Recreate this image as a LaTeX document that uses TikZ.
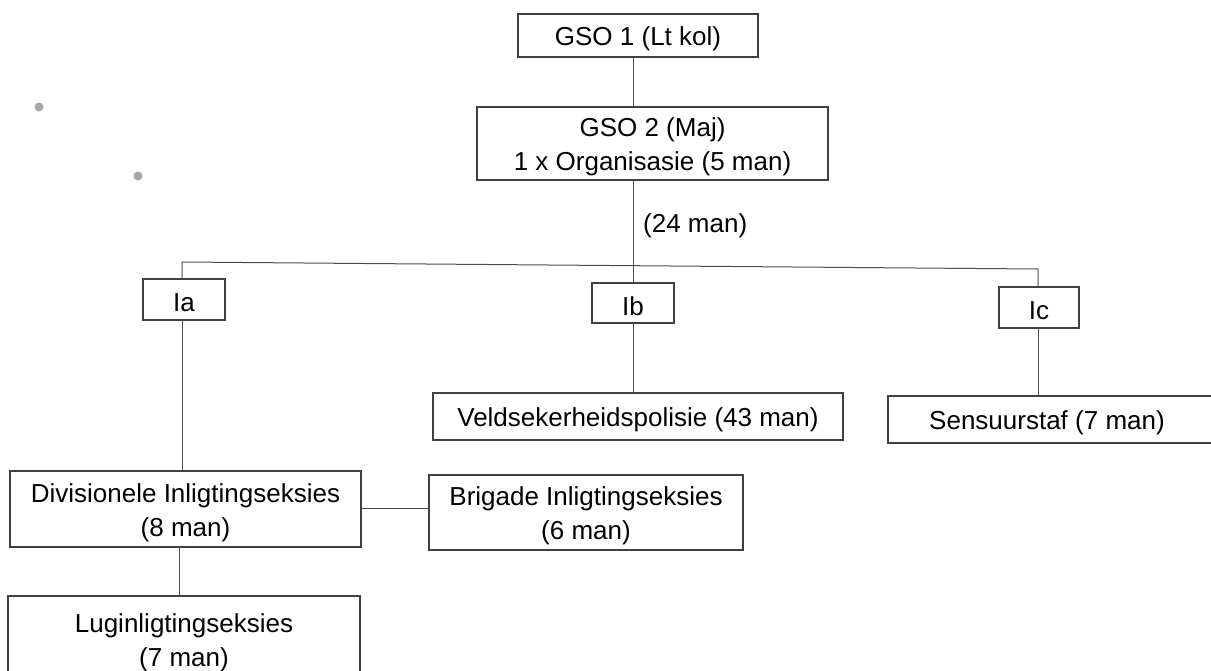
\documentclass[tikz,border=0pt]{standalone}
\usepackage{fontspec}
\setmainfont{Liberation Sans}
\begin{document}
\begin{tikzpicture}[x=1pt,y=-1pt,
  box/.style={draw=black!75, line width=1.1pt, inner sep=0pt},
  txt/.style={inner sep=0pt, align=center, yshift=-3.5pt,
    font=\fontsize{26}{34}\selectfont},
  conn/.style={draw=black!70, line width=1pt},
  lbl/.style={inner sep=0pt, font=\fontsize{26}{34}\selectfont},
  speck/.style={fill=black!35, draw=none}]
\useasboundingbox (0,0) rectangle (1211,670);
% scan specks
\fill[speck] (39,107) circle (4.5);
\fill[speck] (138,176) circle (4.5);
% boxes
\node[box, minimum width=240, minimum height=43, label={[txt]center:GSO 1 (Lt kol)}] (g1) at (638,35.5) {};
\node[box, minimum width=351, minimum height=73, label={[txt]center:GSO 2 (Maj)\\1 x Organisasie (5 man)}] (g2) at (652.5,143.5) {};
\node[lbl, anchor=west] (t24) at (643,226) {(24 man)};
\node[box, minimum width=82, minimum height=41, label={[txt]center:Ia}] (ia) at (184,299.5) {};
\node[box, minimum width=82, minimum height=40, label={[txt]center:Ib}] (ib) at (633,303) {};
\node[box, minimum width=80, minimum height=41, label={[txt]center:Ic}] (ic) at (1039,307.5) {};
\node[box, minimum width=410, minimum height=47, label={[txt]center:Veldsekerheidspolisie (43 man)}] (vp) at (638,416.5) {};
\node[box, minimum width=330, minimum height=47, label={[txt,xshift=-6pt]center:Sensuurstaf (7 man)}] (ss) at (1053,419.5) {};
\node[box, minimum width=351, minimum height=76, label={[txt]center:Divisionele Inligtingseksies\\(8 man)}] (dv) at (185.5,509) {};
\node[box, minimum width=314, minimum height=75, label={[txt]center:Brigade Inligtingseksies\\(6 man)}] (br) at (586,512.5) {};
\node[box, minimum width=352, minimum height=86, label={[txt]center:Luginligtingseksies\\(7 man)}] (lg) at (184,639) {};
% connectors
\coordinate (barL) at (182,262);
\coordinate (barR) at (1038,269);
\draw[conn] (ib.north |- g1.south) -- (ib.north |- g2.north);
\draw[conn] (ib.north |- g2.south) -- (ib.north);
\draw[conn] (ia.north -| barL) -- (barL) -- (barR) -- (ic.north -| barR);
\draw[conn] (ia.south -| barL) -- (dv.north -| barL);
\draw[conn] (ib.south) -- (vp.north -| ib.south);
\draw[conn] (ic.south -| barR) -- (ss.north -| barR);
\draw[conn] (dv.east |- 0,508) -- (br.west |- 0,508);
\draw[conn] (179,547) -- (179,596);
\end{tikzpicture}
\end{document}
